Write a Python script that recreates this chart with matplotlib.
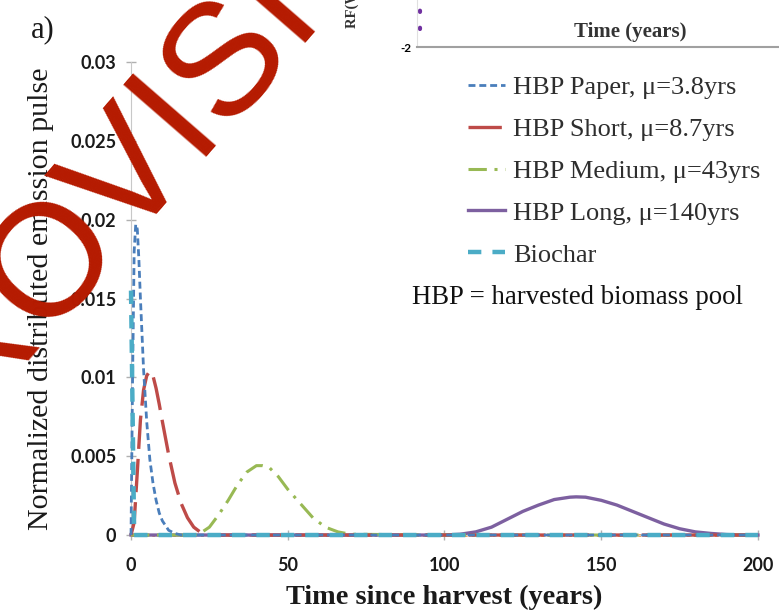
import matplotlib
matplotlib.use("Agg")
import matplotlib.pyplot as plt

# ---- data (years since harvest, normalized emission pulse) ----
paper_t = [0, 0.5, 1, 1.5, 2, 2.5, 3, 4, 5, 6, 7, 8, 9, 10, 12, 14, 16, 20, 50, 100, 150, 200]
paper_v = [0, 0.0100, 0.0180, 0.0197, 0.0194, 0.0175, 0.0150, 0.0105, 0.0072, 0.0048,
           0.0033, 0.0022, 0.0014, 0.0009, 0.0003, 0.0001, 0, 0, 0, 0, 0, 0]

short_t = [0, 1, 2, 3, 4, 5, 6, 7, 8, 9, 10, 12, 14, 16, 18, 20, 22, 25, 50, 100, 150, 200]
short_v = [0, 0.0008, 0.0040, 0.0073, 0.0092, 0.0101, 0.0104, 0.0101, 0.0093, 0.0083,
           0.0072, 0.0051, 0.0033, 0.0020, 0.0011, 0.0005, 0.0002, 0, 0, 0, 0, 0]

medium_t = [0, 20, 22, 25, 28, 31, 34, 37, 40, 42, 44, 47, 50, 54, 58, 62, 66, 70, 100, 150, 200]
medium_v = [0, 0, 0.0001, 0.0005, 0.0013, 0.0022, 0.0032, 0.0040, 0.0044, 0.0044,
            0.0043, 0.0037, 0.0029, 0.0020, 0.0011, 0.0005, 0.0002, 0.00005, 0, 0, 0]

long_t = [0, 100, 105, 110, 115, 120, 125, 130, 135, 140, 142, 145, 150, 155, 160,
          165, 170, 175, 180, 185, 190, 195, 200]
long_v = [0, 0, 0.00005, 0.0002, 0.0005, 0.0010, 0.0015, 0.0019, 0.00225, 0.0024, 0.00242,
          0.0024, 0.0022, 0.0019, 0.0015, 0.0011, 0.0007, 0.0004, 0.0002, 0.0001, 0.00003, 0, 0]

biochar_t = [0, 1, 50, 100, 150, 200]
biochar_v = [0.0155, 0, 0, 0, 0, 0]

other_t = [0, 200]
other_v = [0, 0]

labels = ["HBP Paper, \u03bc=3.8yrs", "HBP Short, \u03bc=8.7yrs", "HBP Medium, \u03bc=43yrs",
          "HBP Long, \u03bc=140yrs", "Biochar"]

x_ticks = [0, 50, 100, 150, 200]
y_ticks = [0, 0.005, 0.01, 0.015, 0.02, 0.025, 0.03]
y_ticklabels = ["0", "0.005", "0.01", "0.015", "0.02", "0.025", "0.03"]

# radiative forcing panel (only its lower edge shows)
rf_t = [0.7, 0.7]
rf_v = [-1.6, 2.0]

BLUE = "#4A7EBB"
RED = "#BE4B48"
GREEN = "#98B954"
PURPLE = "#7D60A0"
AQUA = "#4BACC6"
ORANGE = "#F79646"

SERIF = ["Liberation Serif", "DejaVu Serif"]

fig = plt.figure(figsize=(7.79, 6.13), dpi=100)
ax = fig.add_axes([0.1682, 0.1272, 0.973 - 0.1682, 0.8989 - 0.1272])

ax.plot(other_t, other_v, color=ORANGE, lw=2.0, ls=(0, (1, 1.5)), clip_on=False, zorder=2)
h_long, = ax.plot(long_t, long_v, color=PURPLE, lw=2.4, clip_on=False, zorder=3, label=labels[3])
h_med, = ax.plot(medium_t, medium_v, color=GREEN, lw=2.2, ls=(0, (6, 2.5, 1, 2.5)),
                 clip_on=False, zorder=3, label=labels[2])
h_short, = ax.plot(short_t, short_v, color=RED, lw=2.4, ls=(0, (10, 3)),
                   clip_on=False, zorder=3, label=labels[1])
h_paper, = ax.plot(paper_t, paper_v, color=BLUE, lw=2.0, ls=(0, (2.5, 1.4)),
                   clip_on=False, zorder=4, label=labels[0])
h_bio, = ax.plot(biochar_t, biochar_v, color=AQUA, lw=3.2, ls=(0, (3, 2.5)),
                 clip_on=False, zorder=5, label=labels[4])

ax.set_xlim(0, 200)
ax.set_ylim(0, 0.03)
ax.set_xticks(x_ticks)
ax.set_xticklabels([str(v) for v in x_ticks])
ax.set_yticks(y_ticks)
ax.set_yticklabels(y_ticklabels)
for lab in ax.get_xticklabels() + ax.get_yticklabels():
    lab.set_fontfamily("Lato")
    lab.set_fontweight("bold")
    lab.set_fontsize(13)
    lab.set_color("#1a1a1a")
ax.tick_params(axis="both", direction="inout", length=7, width=1, color="#b0b0b0")
ax.tick_params(axis="y", pad=7)
ax.tick_params(axis="x", pad=12)

for s in ("top", "right"):
    ax.spines[s].set_visible(False)
ax.spines["left"].set_color("#c8c8c8")
ax.spines["bottom"].set_color("#c8c8c8")

ax.set_xlabel("Time since harvest (years)", family=SERIF, fontweight="bold",
              fontsize=20.3, color="#1a1a1a", labelpad=8)
ax.set_ylabel("Normalized distributed emission pulse", family=SERIF, fontsize=21.6,
              color="#1a1a1a", labelpad=12)

fig.text(0.055, 0.951, "a)", family=SERIF, fontsize=22, ha="center", va="center",
         color="#1a1a1a")

leg = fig.legend(handles=[h_paper, h_short, h_med, h_long, h_bio],
                 loc="upper left", bbox_to_anchor=(0.6008, 0.877), frameon=False,
                 prop={"family": SERIF, "size": 19}, handlelength=1.4,
                 handletextpad=0.3, labelspacing=0.70, borderpad=0, borderaxespad=0)
for t in leg.get_texts():
    t.set_color("#2e2e2e")

fig.text(0.7415, 0.514, "HBP = harvested biomass pool", family=SERIF, fontsize=19.3,
         ha="center", va="center", color="#111111")

# radiative forcing panel above
ax_rf = fig.add_axes([417 / 779, 1 - 47 / 613, 0.56, 0.3])
ax_rf.plot(rf_t, rf_v, color="#7030A0", lw=3.0, ls=(0, (0.3, 3.8)),
           dash_capstyle="round", clip_on=False)
ax_rf.set_xlim(0, 100)
ax_rf.set_ylim(-2, 2)
ax_rf.set_xticks([])
ax_rf.set_yticks([-2, 0, 2])
ax_rf.set_yticklabels(["-2", "0", "2"])
ax_rf.tick_params(axis="y", length=0, pad=4, labelsize=8.5)
for lab in ax_rf.get_yticklabels():
    lab.set_fontweight("bold")
    lab.set_fontfamily("Lato")
for s in ("top", "right"):
    ax_rf.spines[s].set_visible(False)
ax_rf.spines["left"].set_color("#e0e0e0")
ax_rf.spines["bottom"].set_color("#a0a0a0")
ax_rf.spines["bottom"].set_linewidth(1.5)
ax_rf.patch.set_alpha(0)
fig.text(630 / 779, 1 - 32 / 613, "Time (years)", family=SERIF, fontweight="bold",
         fontsize=15, ha="center", va="center", color="#333333")
fig.text(352 / 779, 1 - 28 / 613, "RF(W m\u207b\u00b2)", family=SERIF, fontweight="bold",
         fontsize=10.5, rotation=90, ha="center", va="bottom", color="#333333")

# watermark
fig.text(0.3235, 0.853, "PROVISIONAL", family="Liberation Sans", fontsize=115,
         rotation=49, rotation_mode="anchor", ha="center", va="baseline",
         color="#B51A00", zorder=100)

fig.savefig("out.png", dpi=100)
